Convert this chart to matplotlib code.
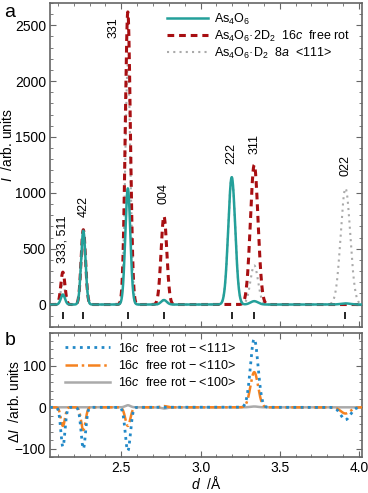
import numpy as np
import matplotlib
matplotlib.use("Agg")
import matplotlib.pyplot as plt
from matplotlib.ticker import MultipleLocator

plt.rcParams['font.family'] = ['Liberation Sans', 'DejaVu Sans']
plt.rcParams['mathtext.fontset'] = 'custom'
plt.rcParams['mathtext.rm'] = 'Liberation Sans'
plt.rcParams['mathtext.it'] = 'Liberation Sans:italic'
plt.rcParams['font.size'] = 10

# reflections (d in Angstrom) and peak widths
hkl = ["333, 511", "422", "331", "004", "222", "311", "022"]
d_hkl = [2.131, 2.260, 2.541, 2.769, 3.197, 3.339, 3.915]
sigma = [0.013, 0.014, 0.016, 0.018, 0.022, 0.024, 0.030]
label_y = [370, 780, 2390, 900, 1260, 1350, 1150]
label_dx = [0, 0, -0.09, 0, 0, 0, 0]

# top panel peak heights
h_as4o6 = [90, 660, 1040, 40, 1140, 30, 10]
h_16c = [290, 670, 2620, 790, 0, 1250, 0]
h_8a = [200, 600, 2150, 40, 1140, 350, 1040]

# bottom panel differences
h_111 = [-95, -100, -105, 0, 0, 165, -30]
h_110 = [-45, -55, -45, 3, 0, 85, -15]
h_100 = [0, 0, 5, -3, 0, 2, 0]

d = np.linspace(2.05, 4.02, 2000)


def profile(heights):
    y = np.zeros_like(d)
    for c, s, h in zip(d_hkl, sigma, heights):
        y += h * np.exp(-0.5 * ((d - c) / s) ** 2)
    return y


teal = "#24a09a"
red = "#a80f12"
grey = "#aaaaaa"
blue = "#2289c8"
orange = "#f58220"
frame = "#666666"

fig = plt.figure(figsize=(3.68, 4.93), dpi=100)
ax1 = fig.add_axes([0.136, 0.337, 0.848, 0.657])
ax2 = fig.add_axes([0.136, 0.073, 0.848, 0.252])

ax1.plot(d, profile(h_8a), ls=(0, (1, 2)), color=grey, lw=1.5,
         label="As$_4$O$_6$·D$_2$  8$a$  <111>", zorder=2)
ax1.plot(d, profile(h_16c), ls=(0, (2.2, 1.6)), color=red, lw=2.2,
         label="As$_4$O$_6$·2D$_2$  16$c$  free rot", zorder=3)
ax1.plot(d, profile(h_as4o6), ls="-", color=teal, lw=1.8,
         label="As$_4$O$_6$", zorder=4)

ax1.vlines(d_hkl, -130, -70, color="black", lw=1.2)
for x, lab, ly, dx in zip(d_hkl, hkl, label_y, label_dx):
    ax1.text(x + dx, ly, lab, rotation=90, ha="center", va="bottom", fontsize=9)

handles, labels = ax1.get_legend_handles_labels()
ax1.legend(handles[::-1], labels[::-1], loc="upper right", frameon=False,
           handlelength=3.3, fontsize=9, bbox_to_anchor=(0.99, 1.0),
           borderaxespad=0.3, labelspacing=0.15, handletextpad=0.5)

ax1.set_xlim(2.05, 4.02)
ax1.set_ylim(-200, 2700)
ax1.yaxis.set_major_locator(MultipleLocator(500))
ax1.yaxis.set_minor_locator(MultipleLocator(100))
ax1.set_ylabel("$I$  /arb. units")
ax1.yaxis.set_label_coords(-0.112, 0.56)
ax1.tick_params(labelbottom=False)

ax2.plot(d, profile(h_100), ls="-", color=grey, lw=1.8,
         label="16$c$  free rot $-$ <100>", zorder=2)
ax2.plot(d, profile(h_110), ls=(0, (5, 1.5, 1, 1.5)), color=orange, lw=1.8,
         label="16$c$  free rot $-$ <110>", zorder=3)
ax2.plot(d, profile(h_111), ls=(0, (1, 1.6)), color=blue, lw=2.0,
         label="16$c$  free rot $-$ <111>", zorder=4)
handles, labels = ax2.get_legend_handles_labels()
ax2.legend(handles[::-1], labels[::-1], loc="upper left", frameon=False,
           handlelength=3.6, fontsize=9, borderaxespad=0.3, labelspacing=0.35,
           handletextpad=0.6, bbox_to_anchor=(0.02, 1.0))

ax2.set_xlim(2.05, 4.02)
ax2.set_ylim(-120, 180)
ax2.yaxis.set_major_locator(MultipleLocator(100))
ax2.yaxis.set_minor_locator(MultipleLocator(20))
ax2.set_xlabel("$d$  /Å", labelpad=0)
ax2.set_ylabel("$\\Delta I$  /arb. units")
ax2.yaxis.set_label_coords(-0.09, 0.45)

for ax in (ax1, ax2):
    ax.xaxis.set_major_locator(MultipleLocator(0.5))
    ax.xaxis.set_minor_locator(MultipleLocator(0.1))
    ax.tick_params(which="both", direction="in", top=True, right=True,
                   color=frame, labelsize=10, pad=3)
    ax.tick_params(which="major", length=4)
    ax.tick_params(which="minor", length=2.5)
    for sp in ax.spines.values():
        sp.set_color(frame)
        sp.set_linewidth(1.2)

fig.text(0.012, 0.965, "a", fontsize=14)
fig.text(0.012, 0.300, "b", fontsize=14)

fig.savefig("out.png", dpi=100)
